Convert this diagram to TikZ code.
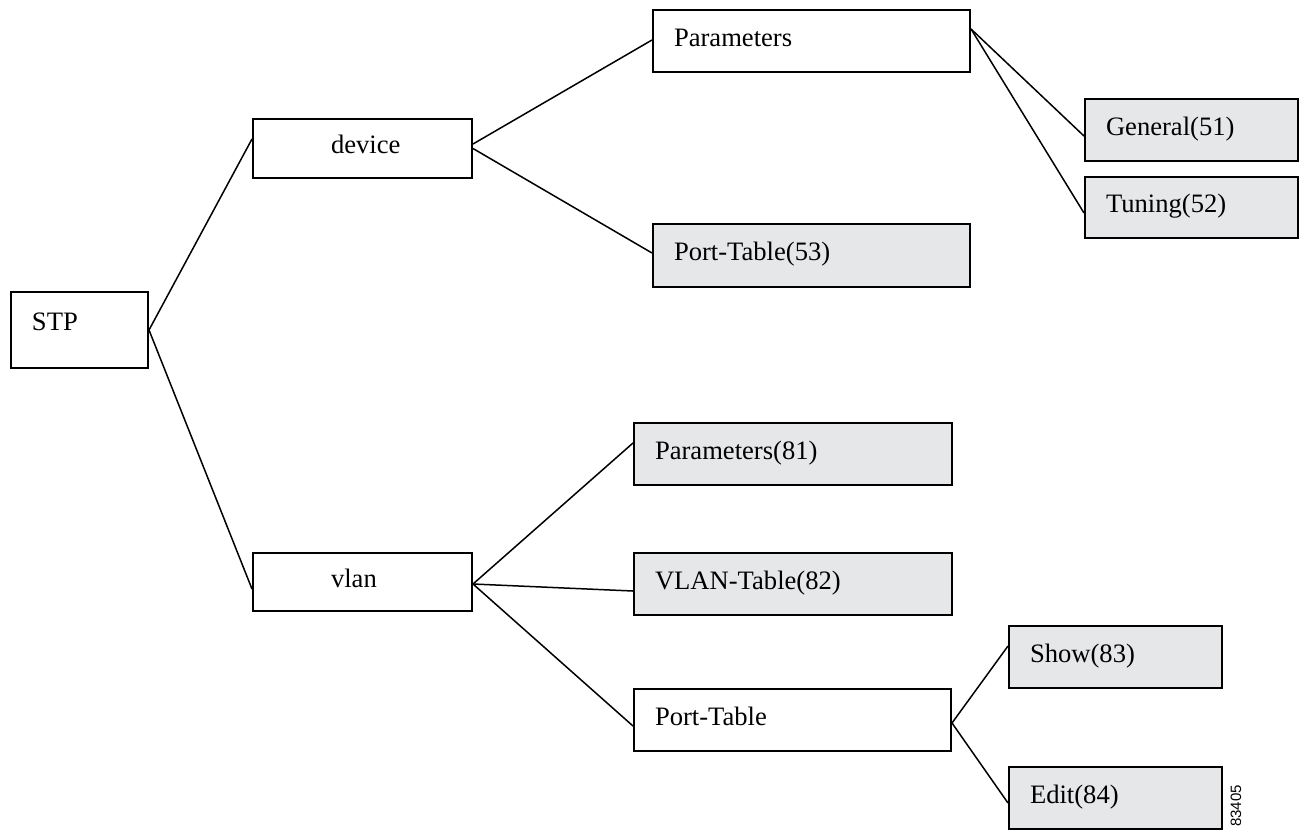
\documentclass[tikz,border=0pt]{standalone}
\usepackage{fontspec}
\setmainfont{Liberation Serif}
\newfontfamily\figsans{Liberation Sans}
\usepackage{xcolor}
\usepackage{tikz}
\definecolor{leafgray}{RGB}{230,231,232}

\begin{document}
\begin{tikzpicture}[
   x=0.5pt, y=-0.5pt,
   box/.style 2 args={draw, line width=1pt, anchor=north west, align=left,
               inner xsep=10.5pt, inner ysep=0pt, text width=#1,
               minimum height=#2, text height=0.75em, text depth=0.25em,
               font=\fontsize{13.3}{16}\selectfont},
   leaf/.style 2 args={box={#1}{#2}, fill=leafgray},
   indent/.style={execute at begin node={\hspace*{#1}}},
   link/.style={line width=0.75pt}]

  \useasboundingbox (0,0) rectangle (1301,831);

  % root and first level
  \node[box={47.5pt}{38pt}, text depth=0.75em] (stp) at (10,291) {STP};
  \node[box={88.5pt}{29.5pt}, indent=28.5pt] (device) at (252,118) {device};
  \node[box={88.5pt}{29pt}, indent=28.5pt] (vlan) at (252,552) {vlan};

  % device branch
  \node[box={137.5pt}{31pt}] (params) at (652,9) {Parameters};
  \node[leaf={137.5pt}{31.5pt}] (ptab53) at (652,223) {Port-Table(53)};
  \node[leaf={85.5pt}{31pt}] (general) at (1084,98) {General(51)};
  \node[leaf={85.5pt}{30.5pt}] (tuning) at (1084,176) {Tuning(52)};

  % vlan branch
  \node[leaf={138pt}{31pt}] (par81) at (633,422) {Parameters(81)};
  \node[leaf={138pt}{31pt}] (vtab82) at (633,552) {VLAN-Table(82)};
  \node[box={137.5pt}{31pt}] (ptab) at (633,688) {Port-Table};
  \node[leaf={85.5pt}{31pt}] (show83) at (1008,625) {Show(83)};
  \node[leaf={85.5pt}{31pt}] (edit84) at (1008,766) {Edit(84)};

  \node[rotate=90, inner sep=0pt, font=\figsans\fontsize{7.5}{9}\selectfont]
       (figid) at (1236,806) {83405};

  \draw[link] (stp.east) -- ([shift={(0,-9.5)}]device.west);
  \draw[link] (stp.east) -- ([shift={(0,7)}]vlan.west);
  \draw[link] ([shift={(0,-4.5)}]device.east) -- ([shift={(0,-1)}]params.west);
  \draw[link] (device.east) -- ([shift={(0,-2.5)}]ptab53.west);
  \draw[link] ([shift={(0,-12)}]params.east) -- ([shift={(0,6)}]general.west);
  \draw[link] ([shift={(0,-12)}]params.east) -- ([shift={(0,5.5)}]tuning.west);
  \draw[link] ([shift={(0,2)}]vlan.east) -- ([shift={(0,-11)}]par81.west);
  \draw[link] ([shift={(0,2)}]vlan.east) -- ([shift={(0,7)}]vtab82.west);
  \draw[link] ([shift={(0,2)}]vlan.east) -- ([shift={(0,6)}]ptab.west);
  \draw[link] ([shift={(0,3)}]ptab.east) -- ([shift={(0,-11)}]show83.west);
  \draw[link] ([shift={(0,3)}]ptab.east) -- ([shift={(0,5)}]edit84.west);
\end{tikzpicture}
\end{document}
